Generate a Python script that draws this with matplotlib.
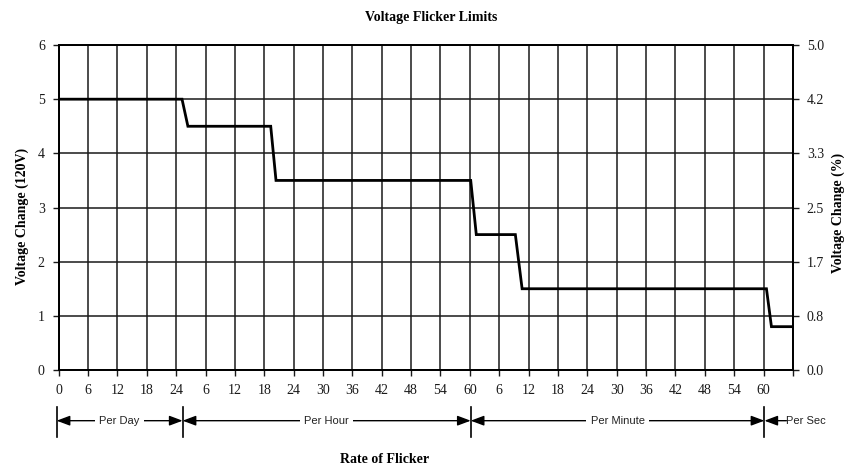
import matplotlib
matplotlib.use('Agg')
import matplotlib.pyplot as plt
import matplotlib.transforms as mtransforms

# x positions are tick indices (0..25), tick labels mark the time units
tick_labels = ['0', '6', '12', '18', '24',
               '6', '12', '18', '24', '30', '36', '42', '48', '54', '60',
               '6', '12', '18', '24', '30', '36', '42', '48', '54', '60', '']
limit_x = [0, 4.2, 4.4, 7.22, 7.40, 14.03, 14.22, 15.55, 15.78, 24.1, 24.27, 25]
limit_v = [5, 5, 4.5, 4.5, 3.5, 3.5, 2.5, 2.5, 1.5, 1.5, 0.8, 0.8]
left_ticks = [0, 1, 2, 3, 4, 5, 6]
right_labels = ['0.0', '0.8', '1.7', '2.5', '3.3', '4.2', '5.0']

# ranges under the axis: (name, start, end)
ranges = [('Per Day', -0.07, 4.22),
          ('Per Hour', 4.22, 14.03),
          ('Per Minute', 14.03, 24.03)]
per_sec_bar = 24.03

serif = 'Liberation Serif'
sans = 'Liberation Sans'

fig = plt.figure(figsize=(8.48, 4.69), dpi=100)
ax = fig.add_axes([0.0692, 0.2111, 0.8658, 0.6929])

ax.plot(limit_x, limit_v, color='black', lw=2, zorder=3, solid_joinstyle='miter')

ax.set_xlim(0, 25)
ax.set_ylim(0, 6)
ax.set_xticks(range(len(tick_labels)))
ax.set_xticklabels(tick_labels, fontfamily=serif, fontsize=10)
ax.set_yticks(left_ticks)
ax.set_yticklabels([str(v) for v in left_ticks], fontfamily=serif, fontsize=10)
ax.grid(True, color='#1a1a1a', lw=1.1)
ax.tick_params(direction='out', length=4, width=1, colors='#1a1a1a', pad=6)
for s in ax.spines.values():
    s.set_linewidth(1.3)
    s.set_color('black')

ax2 = ax.twinx()
ax2.set_ylim(0, 6)
ax2.set_yticks(left_ticks)
ax2.set_yticklabels(right_labels, fontfamily=serif, fontsize=10)
ax2.tick_params(direction='out', length=4, width=1, colors='#1a1a1a', pad=6)
for s in ax2.spines.values():
    s.set_linewidth(1.3)

# range arrows below the axis
trans = mtransforms.blended_transform_factory(ax.transData, ax.transAxes)
bar_lo, bar_hi, arr_y = -0.206, -0.114, -0.156
bars = [r[1] for r in ranges] + [per_sec_bar]
for b in bars:
    ax.plot([b, b], [bar_lo, bar_hi], transform=trans, color='black', lw=1.2,
            clip_on=False)
for name, x0, x1 in ranges:
    ax.annotate('', xy=(x0, arr_y), xytext=(x1, arr_y), xycoords=trans,
                textcoords=trans,
                arrowprops=dict(arrowstyle='<|-|>,head_length=0.8,head_width=0.3',
                                color='black', lw=1, shrinkA=0, shrinkB=0,
                                mutation_scale=10))
    ax.text((x0 + x1) / 2, arr_y, name, transform=trans, ha='center', va='center',
            fontfamily=sans, fontsize=8, color='#222222', zorder=5,
            bbox=dict(facecolor='white', edgecolor='none', pad=3))
ax.annotate('', xy=(per_sec_bar, arr_y), xytext=(per_sec_bar + 0.75, arr_y),
            xycoords=trans, textcoords=trans,
            arrowprops=dict(arrowstyle='-|>,head_length=0.8,head_width=0.3',
                            color='black', lw=1, shrinkA=0, shrinkB=0,
                            mutation_scale=10))
ax.text(per_sec_bar + 0.75, arr_y, 'Per Sec', transform=trans, ha='left',
        va='center', fontfamily=sans, fontsize=8, color='#222222', clip_on=False)

fig.text(431 / 848, 1 - 17 / 469, 'Voltage Flicker Limits', ha='center', va='center',
         fontfamily=serif, fontweight='bold', fontsize=10)
fig.text(385 / 848, 1 - 459 / 469, 'Rate of Flicker', ha='center', va='center',
         fontfamily=serif, fontweight='bold', fontsize=10)
fig.text(22 / 848, 1 - 216 / 469, 'Voltage Change (120V)', rotation=90, ha='center',
         va='center', fontfamily=serif, fontweight='bold', fontsize=10)
fig.text(838 / 848, 1 - 213 / 469, 'Voltage Change (%)', rotation=90, ha='center',
         va='center', fontfamily=serif, fontweight='bold', fontsize=10)

fig.savefig('out.png', dpi=100)
